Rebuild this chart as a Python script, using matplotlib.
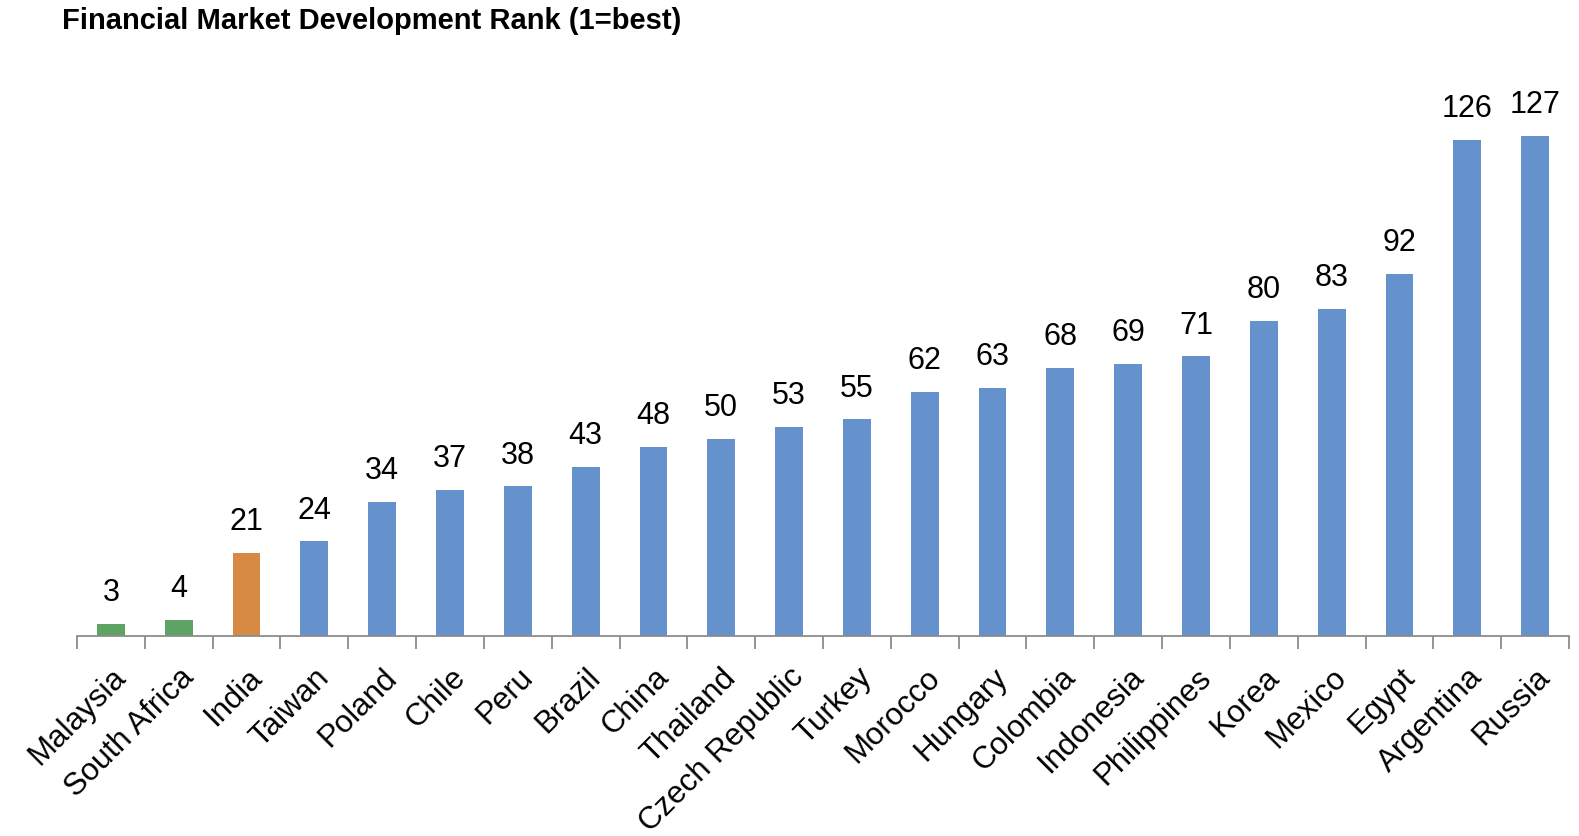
import numpy as np
import matplotlib.pyplot as plt
from matplotlib.ticker import FixedLocator

countries = ["Malaysia", "South Africa", "India", "Taiwan", "Poland", "Chile", "Peru",
             "Brazil", "China", "Thailand", "Czech Republic", "Turkey", "Morocco",
             "Hungary", "Colombia", "Indonesia", "Philippines", "Korea", "Mexico",
             "Egypt", "Argentina", "Russia"]
ranks = [3, 4, 21, 24, 34, 37, 38, 43, 48, 50, 53, 55, 62, 63, 68, 69, 71, 80, 83, 92, 126, 127]
groups = ["top", "top", "india"] + ["other"] * 19

palette = {"top": "#5DA363", "india": "#D68A44", "other": "#6591CC"}
colors = [palette[g] for g in groups]

plt.rcParams['font.family'] = ['Liberation Sans', 'DejaVu Sans']

W, H = 1579, 836
fig = plt.figure(figsize=(W / 100, H / 100), dpi=100)
ax = fig.add_axes([77 / W, (H - 636) / H, (1569 - 77) / W, (636 - 100) / H])

x = np.arange(len(countries))
ax.bar(x, ranks, width=0.41, color=colors)
for xi, v in zip(x, ranks):
    ax.text(xi, v + 4.0, str(v), ha='center', va='bottom', fontsize=22)

ax.set_xlim(-0.5, len(countries) - 0.5)
ax.set_ylim(0, 536 / 3.94)

for s in ["top", "right", "left"]:
    ax.spines[s].set_visible(False)
ax.spines["bottom"].set_color("#8C8C8C")
ax.spines["bottom"].set_linewidth(1.3)
ax.set_yticks([])

ax.set_xticks(x)
ax.set_xticklabels(countries, rotation=45, ha='right', rotation_mode='anchor', fontsize=22.5)
ax.tick_params(axis='x', which='major', length=0, pad=19)
ax.xaxis.set_minor_locator(FixedLocator(np.arange(len(countries) + 1) - 0.5))
ax.tick_params(axis='x', which='minor', length=9, width=1.3, color="#8C8C8C", direction='out')

fig.text(62 / W, 1 - 21 / H, "Financial Market Development Rank (1=best)",
         fontsize=21, fontweight='bold', ha='left', va='center')

fig.savefig("out.png", dpi=100)
